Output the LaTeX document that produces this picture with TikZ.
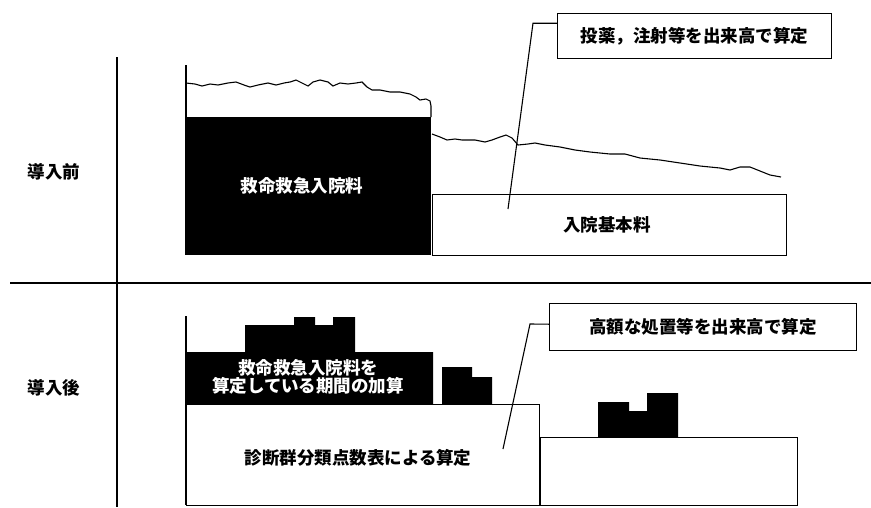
\documentclass[tikz,border=0pt]{standalone}
\usepackage{fontspec}
\setmainfont{Noto Sans CJK JP}
\begin{document}
\begin{tikzpicture}[x=1pt,y=-1pt,
  ln/.style={line width=1.4pt,black},
  thin/.style={line width=1.1pt,black},
  jp/.style={font=\fontsize{17.5}{21}\selectfont\bfseries},
  wbox/.style={draw,line width=1.4pt,fill=white,inner sep=0pt,jp},
  bbox/.style={fill=black,text=white,inner sep=0pt,jp,align=center},
  call/.style={draw,line width=1.4pt,fill=white,inner sep=0pt,jp}]
\useasboundingbox (0,0) rectangle (871,507);
% axes
\draw[ln] (117,57) coordinate (axT) -- (117,507) coordinate (axB);
\draw[ln] (10,283) coordinate (dvL) -- (871,283) coordinate (dvR);
\node[jp] (before) at (54,172) {導入前};
\node[jp] (after) at (54,388) {導入後};
% ---------- top panel ----------
\draw[thin] (186,65) coordinate (tA) -- (186,255) coordinate (tB);
\node[bbox,minimum width=245pt,minimum height=138pt,anchor=north west] (bq) at (186,117) {};
\node[jp,text=white] (bqt) at (302,186) {救命救急入院料};
\node[wbox,minimum width=354pt,minimum height=61pt,anchor=north west] (kihon) at (432,194) {};
\node[jp] (kihont) at (607,225) {入院基本料};
% wavy line over black box
\draw[thin] (186,83) -- (195,84) -- (202,86) -- (210,84) -- (218,85) -- (228,83) -- (236,82) -- (244,85) -- (250,87) -- (258,85) -- (268,83) -- (276,85) -- (284,83) -- (290,82) -- (296,80) -- (302,83) -- (308,86) -- (313,82) -- (320,80) -- (328,82) -- (333,86) -- (340,83) -- (348,84) -- (356,83) -- (362,82) -- (367,87) -- (372,90) -- (380,90) -- (390,92) -- (400,92) -- (410,94) -- (416,97) -- (420,100) -- (426,99) -- (430,101) -- (431,106) -- (431,117);
% wavy line over basic box
\draw[thin] (432,134) -- (440,137) -- (447,140) -- (455,139) -- (462,140) -- (475,140) -- (485,142) -- (492,140) -- (500,137) -- (506,135) -- (512,138) -- (518,145) -- (528,144) -- (535,143) -- (545,145) -- (560,147) -- (575,150) -- (590,152) -- (610,154) -- (625,154) -- (640,158) -- (660,160) -- (680,163) -- (700,166) -- (720,168) -- (730,170) -- (740,167) -- (750,167) -- (760,171) -- (770,175) -- (781,177);
\node[call,minimum width=274pt,minimum height=45pt,anchor=north west] (c1) at (557,13) {投薬，注射等を出来高で算定};
\coordinate (c1end) at (508,209);
\draw[thin] ([yshift=13pt]c1.west) -- ++(-24,0) -- (c1end);
% ---------- bottom panel ----------
\draw[thin] (186,316) coordinate (bA) -- (186,505) coordinate (bB);
\node[wbox,minimum width=353pt,minimum height=101pt,anchor=north west] (dpc) at (186,404) {};
\node[jp] (dpct) at (358,458) {診断群分類点数表による算定};
\node[wbox,minimum width=257pt,minimum height=68pt,anchor=north west] (dpc2) at (540,437) {};
\fill (186,404) -- (186,352) -- (245,352) -- (245,325) -- (294,325) -- (294,317) -- (315,317) -- (315,325) -- (333,325) -- (333,317) -- (355,317) -- (355,352) -- (433,352) -- (433,404) -- cycle;
\node[bbox] (kasan) at (308,377) {救命救急入院料を\\[-3pt]算定している期間の加算};
\fill (442,404) -- (442,367) -- (472,367) -- (472,377) -- (492,377) -- (492,404) -- cycle;
\fill (598,437) -- (598,402) -- (629,402) -- (629,411) -- (647,411) -- (647,393) -- (678,393) -- (678,437) -- cycle;
\node[call,minimum width=307pt,minimum height=47pt,anchor=north west] (c2) at (549,303) {高額な処置等を出来高で算定};
\coordinate (c2end) at (503,449);
\draw[thin] ([yshift=3pt]c2.west) -- (530,324) -- (c2end);
\end{tikzpicture}
\end{document}
